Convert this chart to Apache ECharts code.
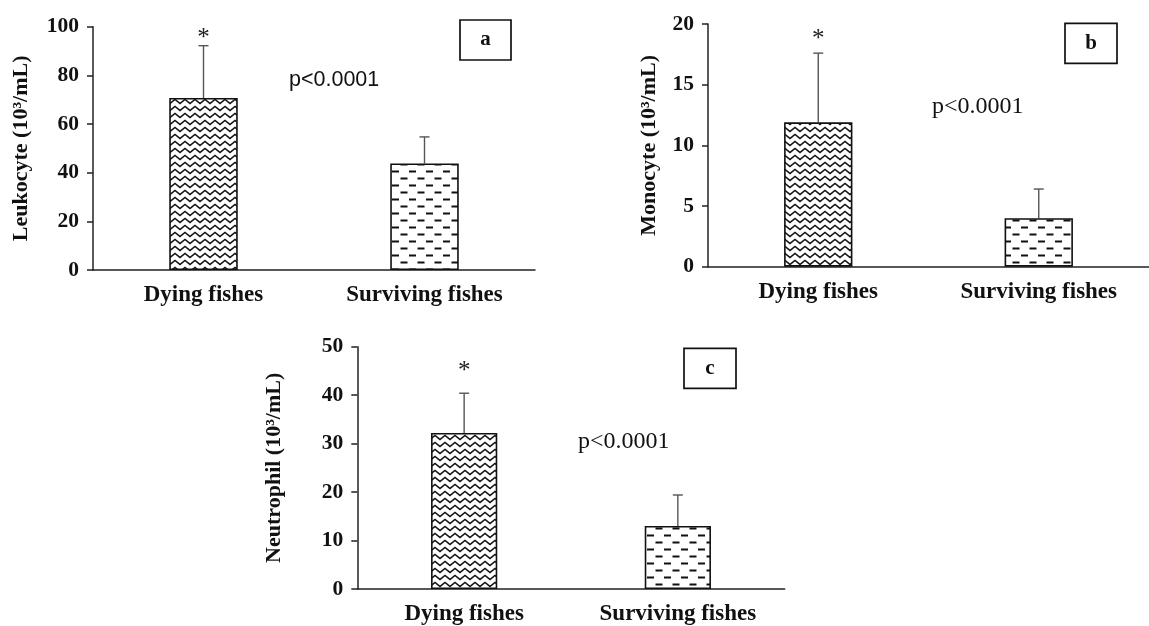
<!DOCTYPE html>
<html>
<head>
<meta charset="utf-8">
<script src="https://cdn.jsdelivr.net/npm/echarts@6/dist/echarts.min.js"></script>
<style>
html,body{margin:0;padding:0;background:#fff;}
#chart{width:1149px;height:626px;}
</style>
</head>
<body>
<div id="chart"></div>
<script>
// ---- data ----
const categories = ['Dying fishes', 'Surviving fishes'];
const leukocyteMean = [70.7, 43.8];
const leukocyteErr = [21.5, 10.9];
const monocyteMean = [11.9, 4.0];
const monocyteErr = [5.7, 2.4];
const neutrophilMean = [32.2, 13.0];
const neutrophilErr = [8.2, 6.4];
const significance = ['*', ''];
const leukocyteAxis = [0, 100, 20];
const monocyteAxis = [0, 20, 5];
const neutrophilAxis = [0, 50, 10];
const axisTitles = ['Leukocyte (10³/mL)', 'Monocyte (10³/mL)', 'Neutrophil (10³/mL)'];
const panelLetters = ['a', 'b', 'c'];
const pLabels = ['p<0.0001', 'p<0.0001', 'p<0.0001'];

// ---- patterns ----
function zigzagPattern() {
  const c = document.createElement('canvas');
  c.width = 10; c.height = 7;
  const g = c.getContext('2d');
  g.fillStyle = '#fff'; g.fillRect(0, 0, 10, 7);
  g.strokeStyle = '#111'; g.lineWidth = 1.4;
  g.beginPath(); g.moveTo(-5, 1.5); g.lineTo(0, 5.5); g.lineTo(5, 1.5); g.lineTo(10, 5.5); g.lineTo(15, 1.5); g.stroke();
  return { image: c, repeat: 'repeat' };
}
function dashPattern() {
  const c = document.createElement('canvas');
  c.width = 17; c.height = 14;
  const g = c.getContext('2d');
  g.fillStyle = '#fff'; g.fillRect(0, 0, 17, 14);
  g.strokeStyle = '#111'; g.lineWidth = 1.8;
  g.beginPath();
  g.moveTo(1, 3.5); g.lineTo(8, 3.5);
  g.moveTo(9.5, 10.5); g.lineTo(16.5, 10.5);
  g.stroke();
  return { image: c, repeat: 'repeat' };
}
const patterns = [zigzagPattern(), dashPattern()];

// ---- layout ----
const panels = [
  { mean: leukocyteMean, err: leukocyteErr, axis: leukocyteAxis, grid: { left: 93, top: 26.7, width: 442, height: 243.3 }, nameGap: 61, starOffset: 13,
    p: { x: 289, y: 80, font: 'Liberation Sans, Arial, sans-serif', size: 21.5 }, box: { x: 460, y: 20, w: 51, h: 40 } },
  { mean: monocyteMean, err: monocyteErr, axis: monocyteAxis, grid: { left: 708, top: 24, width: 451, height: 242.7 }, nameGap: 48, starOffset: 20,
    p: { x: 932, y: 106.7, font: 'Liberation Serif, Times New Roman, serif', size: 24 }, box: { x: 1065, y: 23.3, w: 52, h: 40 } },
  { mean: neutrophilMean, err: neutrophilErr, axis: neutrophilAxis, grid: { left: 357.3, top: 346.7, width: 427.4, height: 243.3 }, nameGap: 72, starOffset: 28,
    p: { x: 578, y: 441.7, font: 'Liberation Serif, Times New Roman, serif', size: 24 }, box: { x: 684, y: 348.3, w: 52, h: 40 } }
];

const serif = 'Liberation Serif, Times New Roman, serif';
const grids = [], xAxes = [], yAxes = [], series = [], graphics = [];

panels.forEach((pn, i) => {
  grids.push(Object.assign({ containLabel: false }, pn.grid));
  xAxes.push({
    type: 'category', gridIndex: i, data: categories,
    axisLine: { lineStyle: { color: '#222', width: 1.5 } },
    axisTick: { show: false },
    axisLabel: { color: '#111', fontFamily: serif, fontWeight: 'bold', fontSize: 23, margin: 14, interval: 0 }
  });
  yAxes.push({
    type: 'value', gridIndex: i, min: pn.axis[0], max: pn.axis[1], interval: pn.axis[2],
    name: axisTitles[i], nameLocation: 'middle', nameGap: pn.nameGap,
    nameTextStyle: { color: '#111', fontFamily: serif, fontWeight: 'bold', fontSize: 22 },
    axisLine: { show: true, lineStyle: { color: '#222', width: 1.5 } },
    axisTick: { show: true, length: 6, lineStyle: { color: '#222', width: 1.5 } },
    axisLabel: { color: '#111', fontFamily: serif, fontWeight: 'bold', fontSize: 21.5, margin: 14 },
    splitLine: { show: false }
  });
  series.push({
    type: 'bar', xAxisIndex: i, yAxisIndex: i, barWidth: '31%',
    data: pn.mean.map((v, k) => ({ value: v, itemStyle: { color: patterns[k], borderColor: '#111', borderWidth: 1.6 } })),
    silent: true, animation: false
  });
  series.push({
    type: 'custom', xAxisIndex: i, yAxisIndex: i, animation: false, silent: true,
    data: pn.mean.map((v, k) => [k, v, pn.err[k]]),
    renderItem: function (params, api) {
      const k = api.value(0), m = api.value(1), e = api.value(2);
      const b = api.coord([k, m]);
      const t = api.coord([k, m + e]);
      const children = [
        { type: 'line', shape: { x1: b[0], y1: b[1], x2: t[0], y2: t[1] }, style: { stroke: '#555', lineWidth: 1.4 } },
        { type: 'line', shape: { x1: t[0] - 5, y1: t[1], x2: t[0] + 5, y2: t[1] }, style: { stroke: '#555', lineWidth: 1.4 } }
      ];
      const s = significance[params.dataIndex];
      if (s) {
        children.push({ type: 'text', style: { text: s, x: t[0], y: t[1] - pn.starOffset + 6, align: 'center', verticalAlign: 'middle',
          font: '25px ' + serif, fill: '#222' } });
      }
      return { type: 'group', children: children };
    }
  });
  graphics.push({ type: 'text', x: pn.p.x, y: pn.p.y, style: { text: pLabels[i], fill: '#111', font: pn.p.size + 'px ' + pn.p.font, align: 'left', verticalAlign: 'middle' } });
  graphics.push({ type: 'rect', shape: { x: pn.box.x, y: pn.box.y, width: pn.box.w, height: pn.box.h }, style: { fill: '#fff', stroke: '#111', lineWidth: 1.7 } });
  graphics.push({ type: 'text', x: pn.box.x + pn.box.w / 2, y: pn.box.y + pn.box.h / 2, style: { text: panelLetters[i], fill: '#111', font: 'bold 21px ' + serif, align: 'center', verticalAlign: 'middle' } });
});

const chart = echarts.init(document.getElementById('chart'));
chart.setOption({
  backgroundColor: '#fff',
  animation: false,
  grid: grids, xAxis: xAxes, yAxis: yAxes, series: series, graphic: graphics
});
</script>
</body>
</html>
